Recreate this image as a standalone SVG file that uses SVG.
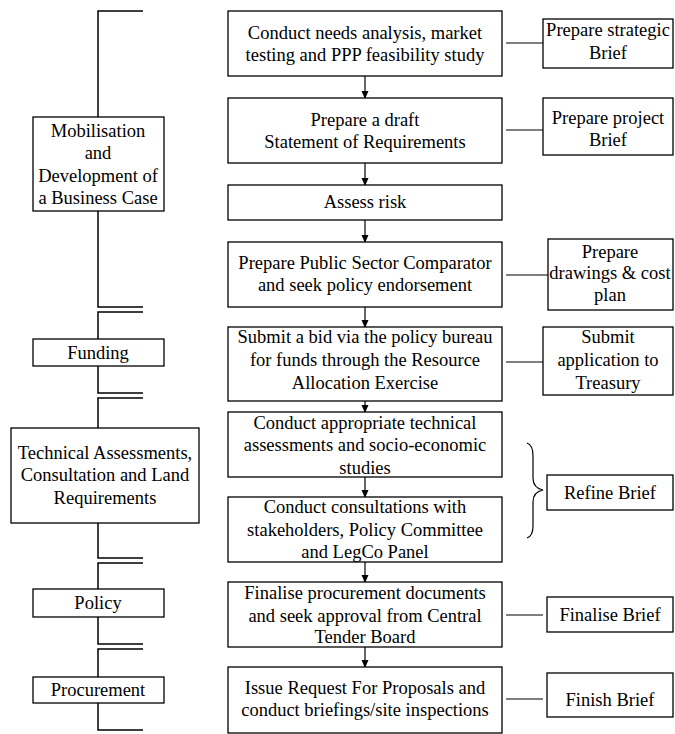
<svg xmlns="http://www.w3.org/2000/svg" width="675" height="734" viewBox="0 0 675 734">
<style>
rect{fill:#fff;stroke:#000;stroke-width:1.3}
text{font-family:"Liberation Serif","Times New Roman",serif;font-size:18.5px;fill:#000;text-anchor:middle}
.br{fill:none;stroke:#000;stroke-width:1.5}
.ln{fill:none;stroke:#000;stroke-width:1.2}
</style>
<defs>
<marker id="ah" markerWidth="8" markerHeight="8" refX="7" refY="4" orient="auto" markerUnits="userSpaceOnUse">
<path d="M0,0.5 L8,4 L0,7.5 Z" fill="#000"/>
</marker>
</defs>
<g id="connectors">
<path class="br" d="M143,11 H98 V307 H143"/>
<path class="br" d="M143,312 H98 V393 H143"/>
<path class="br" d="M143,398 H98 V558 H143"/>
<path class="br" d="M143,563 H98 V644 H143"/>
<path class="br" d="M143,649 H98 V730 H143"/>
<g class="ln" marker-end="url(#ah)">
<line x1="365" y1="76" x2="365" y2="98"/>
<line x1="365" y1="163" x2="365" y2="185"/>
<line x1="365" y1="220" x2="365" y2="242"/>
<line x1="365" y1="307" x2="365" y2="327"/>
<line x1="365" y1="401" x2="365" y2="412"/>
<line x1="365" y1="477" x2="365" y2="497"/>
<line x1="365" y1="562" x2="365" y2="582"/>
<line x1="365" y1="647" x2="365" y2="667"/>
</g>
<line class="ln" x1="506" y1="43" x2="543" y2="43"/>
<line class="ln" x1="506" y1="130" x2="543" y2="130"/>
<line class="ln" x1="506" y1="275" x2="548" y2="275"/>
<line class="ln" x1="506" y1="362" x2="543" y2="362"/>
<line class="ln" x1="506" y1="615" x2="543" y2="615"/>
<line class="ln" x1="506" y1="699" x2="543" y2="699"/>
<path class="ln" d="M527,443 Q533,445 533,456 L533,478 Q533,488 543,490 Q533,492 533,502 L533,526 Q533,536 527,538"/>
</g>
<g id="phase-mobilisation"><rect x="33" y="117" width="131" height="94"/>
<text x="98" y="137">Mobilisation</text><text x="98" y="159">and</text><text x="98" y="182">Development of</text><text x="98" y="204">a Business Case</text></g>
<g id="phase-funding"><rect x="33" y="339" width="131" height="27"/><text x="98" y="359">Funding</text></g>
<g id="phase-technical"><rect x="11" y="428" width="188" height="95"/>
<text x="105" y="459">Technical Assessments,</text><text x="105" y="481">Consultation and Land</text><text x="105" y="504">Requirements</text></g>
<g id="phase-policy"><rect x="33" y="589" width="131" height="28"/><text x="98" y="609">Policy</text></g>
<g id="phase-procurement"><rect x="33" y="677" width="131" height="26"/><text x="98" y="696">Procurement</text></g>

<g id="step1"><rect x="228" y="11" width="274" height="65"/><text x="365" y="39">Conduct needs analysis, market</text><text x="365" y="61">testing and PPP feasibility study</text></g>
<g id="step2"><rect x="228" y="98" width="274" height="65"/><text x="365" y="126">Prepare a draft</text><text x="365" y="148">Statement of Requirements</text></g>
<g id="step3"><rect x="228" y="185" width="274" height="35"/><text x="365" y="208">Assess risk</text></g>
<g id="step4"><rect x="228" y="242" width="274" height="65"/><text x="365" y="269">Prepare Public Sector Comparator</text><text x="365" y="291">and seek policy endorsement</text></g>
<g id="step5"><rect x="228" y="327" width="274" height="74"/><text x="365" y="343">Submit a bid via the policy bureau</text><text x="365" y="366">for funds through the Resource</text><text x="365" y="389">Allocation Exercise</text></g>
<g id="step6"><rect x="228" y="412" width="274" height="65"/><text x="365" y="429">Conduct appropriate technical</text><text x="365" y="451">assessments and socio-economic</text><text x="365" y="474">studies</text></g>
<g id="step7"><rect x="228" y="497" width="274" height="65"/><text x="365" y="513">Conduct consultations with</text><text x="365" y="536">stakeholders, Policy Committee</text><text x="365" y="558">and LegCo Panel</text></g>
<g id="step8"><rect x="228" y="582" width="274" height="65"/><text x="365" y="599">Finalise procurement documents</text><text x="365" y="622">and seek approval from Central</text><text x="365" y="643">Tender Board</text></g>
<g id="step9"><rect x="228" y="667" width="274" height="66"/><text x="365" y="694">Issue Request For Proposals and</text><text x="365" y="716">conduct briefings/site inspections</text></g>

<g id="brief-strategic"><rect x="543" y="19" width="130" height="49"/><text x="608" y="36">Prepare strategic</text><text x="608" y="59">Brief</text></g>
<g id="brief-project"><rect x="543" y="98" width="130" height="57"/><text x="608" y="124">Prepare project</text><text x="608" y="146">Brief</text></g>
<g id="brief-drawings"><rect x="548" y="239" width="125" height="71"/><text x="610" y="258">Prepare</text><text x="610" y="279">drawings &amp; cost</text><text x="610" y="301">plan</text></g>
<g id="brief-treasury"><rect x="543" y="327" width="130" height="68"/><text x="608" y="343">Submit</text><text x="608" y="366">application to</text><text x="608" y="389">Treasury</text></g>
<g id="brief-refine"><rect x="547" y="475" width="126" height="35"/><text x="610" y="499">Refine Brief</text></g>
<g id="brief-finalise"><rect x="547" y="597" width="126" height="35"/><text x="610" y="621">Finalise Brief</text></g>
<g id="brief-finish"><rect x="547" y="673" width="126" height="44"/><text x="610" y="706">Finish Brief</text></g>
</svg>
